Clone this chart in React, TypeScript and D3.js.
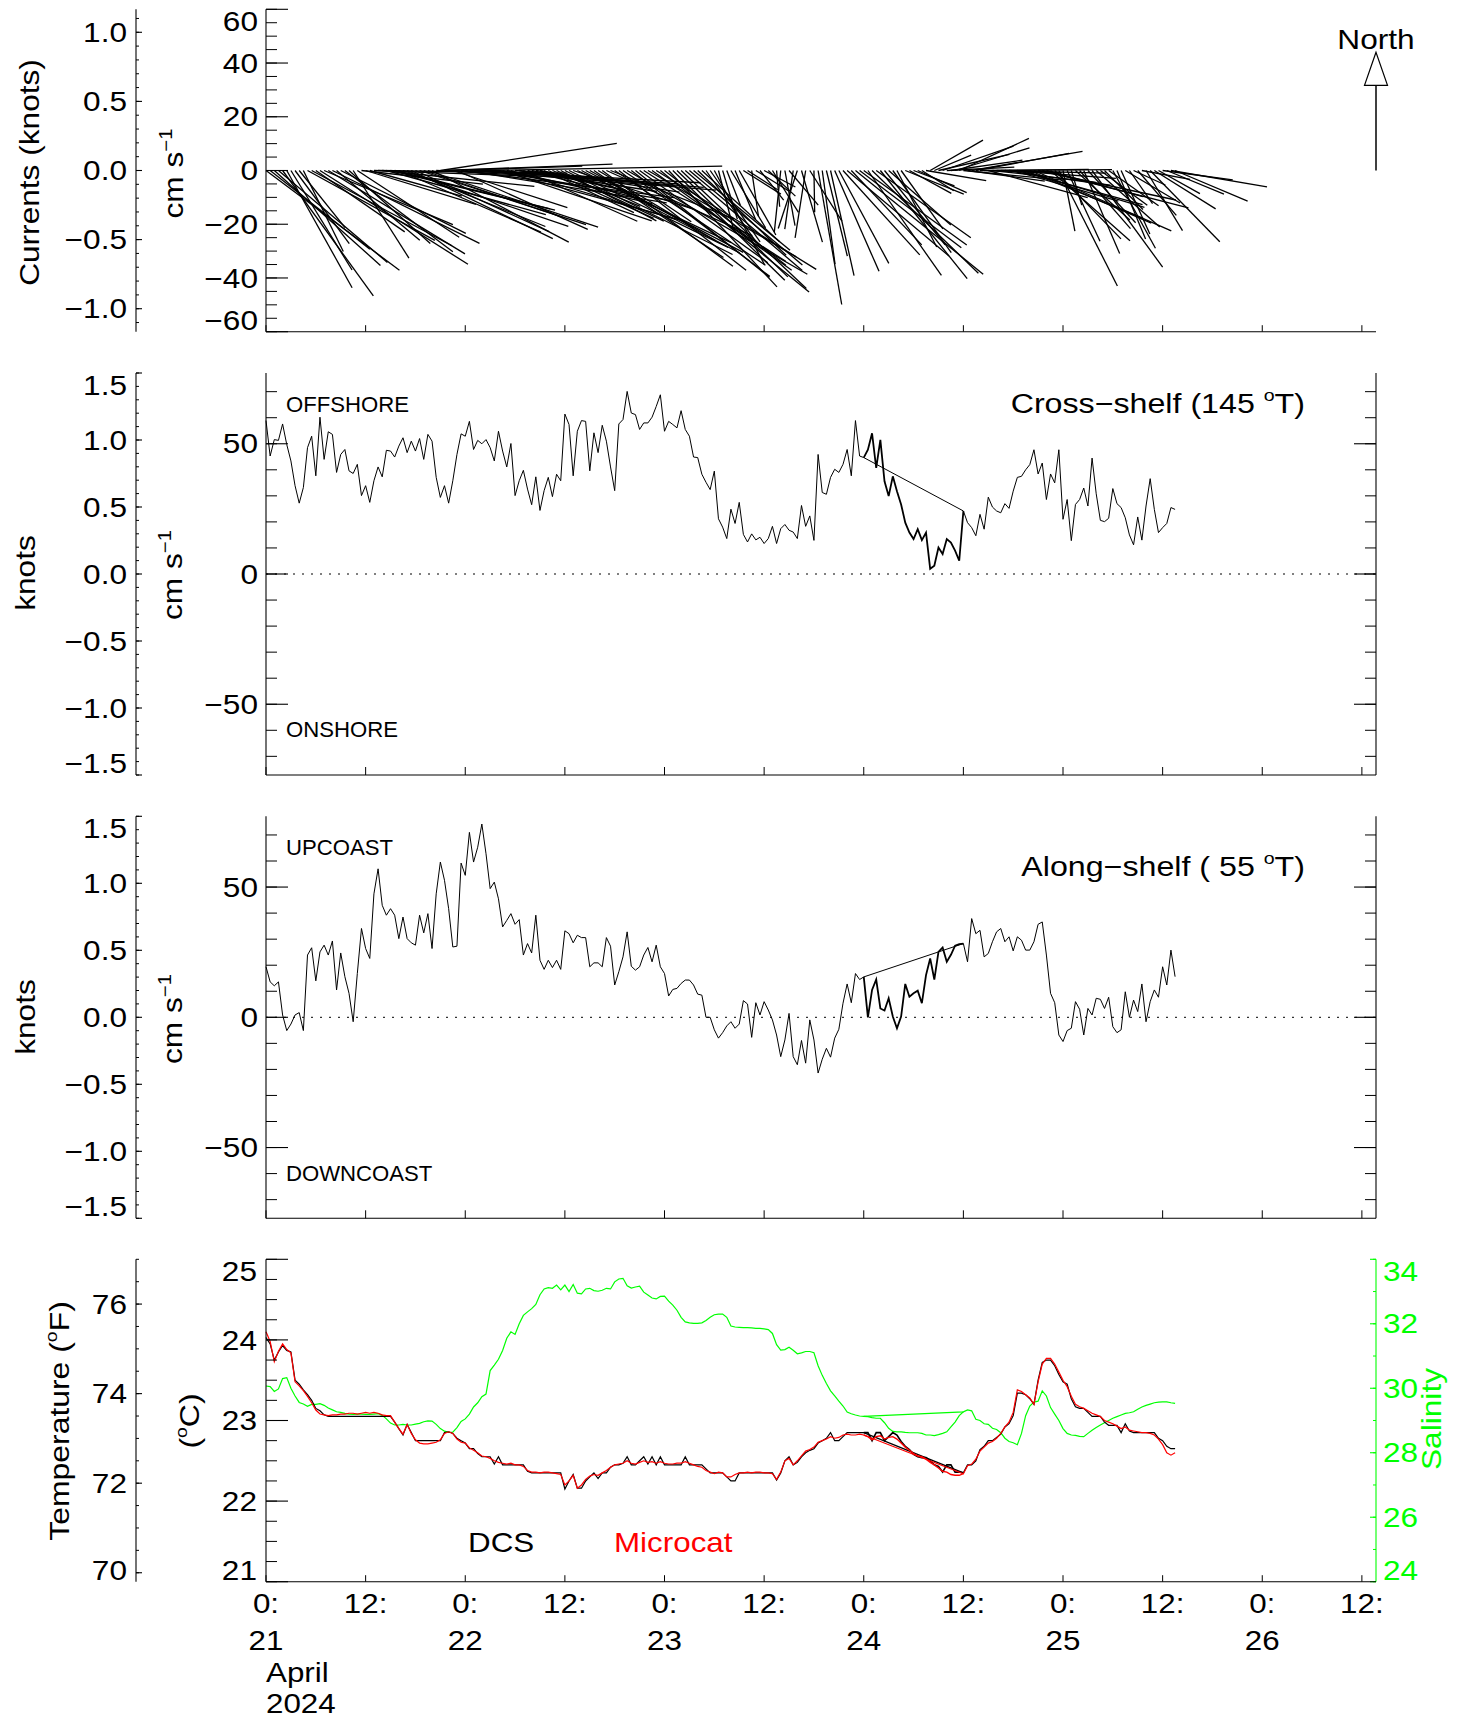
import React from 'react';
import * as d3 from 'd3';

// ---------------- data (half-hourly samples from 21 April 2024 00:00) ----------------
const STEP_H = 0.5;
const X_MAX_H = 133.7;
const GAP_START = 144; // samples between these indices are bridged by a straight line
const GAP_END = 168;
const KNOT = 51.444; // cm/s per knot
const ALONG_DIR = 55; // degrees true
const CROSS_DIR = 145;
const NORTH_ARROW_CM = 44;

const CROSS = [
  58.9, 45.3, 51.6, 51.3, 57.6, 49.7, 43.4, 33.9, 27.2, 33.2,
  48.5, 52.9, 37.7, 60.2, 44.0, 54.6, 53.6, 39.0, 45.9, 47.8,
  39.6, 38.6, 42.1, 30.1, 33.9, 27.5, 35.8, 41.1, 37.3, 47.5,
  47.2, 44.9, 49.1, 52.3, 46.6, 51.0, 47.2, 52.0, 44.0, 53.6,
  51.0, 37.1, 29.4, 33.9, 27.2, 35.8, 45.9, 53.8, 52.9, 58.6,
  47.8, 51.3, 50.0, 51.6, 48.5, 43.4, 54.8, 47.2, 41.1, 50.1,
  30.1, 35.8, 39.8, 32.6, 26.6, 37.3, 24.4, 32.0, 37.1, 29.7,
  38.3, 35.8, 61.4, 57.4, 37.7, 54.8, 58.9, 58.6, 39.6, 54.2,
  46.6, 57.1, 51.0, 41.1, 32.0, 57.6, 59.3, 70.1, 61.8, 61.2,
  55.5, 58.0, 58.0, 60.2, 64.3, 68.8, 54.8, 58.6, 57.4, 56.1,
  62.7, 55.5, 52.9, 44.9, 44.7, 38.3, 35.2, 32.4, 39.5, 21.2,
  18.0, 13.6, 24.9, 19.4, 27.5, 15.2, 12.3, 15.4, 13.1, 14.1,
  11.7, 13.6, 18.3, 11.7, 17.4, 19.0, 16.8, 16.1, 13.6, 26.3,
  18.3, 22.3, 12.9, 45.9, 31.3, 30.6, 37.1, 40.2, 39.0, 42.1,
  47.8, 37.7, 58.9, 45.3,
  44.7, 47.7, 54.0, 40.7, 51.5, 35.6, 29.9, 37.5, 31.8, 26.7,
  19.7, 15.9, 13.4, 17.2, 13.0, 15.9, 2.0, 3.2, 10.2, 7.7,
  13.4, 12.1, 9.0, 5.1, 24.2,
  19.7, 17.8, 14.7, 22.9, 17.2, 29.5, 25.7, 24.2, 23.5, 27.0,
  25.2, 31.8, 37.1, 37.5, 40.0, 42.0, 47.7, 38.4, 42.6, 28.6,
  38.4, 35.0, 47.7, 21.0, 28.6, 12.8, 26.7, 28.6, 33.0, 26.1,
  44.5, 30.8, 20.6, 20.1, 21.4, 32.8, 27.0, 25.5, 21.6, 15.0,
  11.2, 21.9, 13.0, 26.1, 36.6, 24.8, 15.9, 17.8, 19.4, 25.5,
  24.8,
];

const ALONG = [
  19.4, 13.6, 12.1, 13.6, 0.9, -5.1, -2.6, 0.9, 1.8, -5.1,
  23.9, 26.7, 14.0, 25.1, 27.7, 23.9, 29.3, 10.5, 24.7, 15.6,
  9.2, -1.7, 16.8, 34.1, 26.4, 22.6, 47.4, 57.0, 43.0, 39.2,
  41.7, 39.2, 30.2, 38.5, 30.2, 28.6, 27.7, 39.2, 32.4, 39.8,
  26.4, 47.4, 59.6, 52.6, 41.7, 27.0, 27.3, 59.2, 54.5, 71.0,
  59.6, 65.3, 74.2, 62.8, 49.4, 51.9, 45.5, 34.7, 37.2, 39.8,
  35.7, 37.5, 23.9, 28.3, 24.7, 39.2, 21.9, 18.4, 21.9, 19.1,
  21.9, 18.4, 33.2, 32.1, 28.6, 31.5, 30.6, 30.6, 19.4, 20.9,
  20.9, 19.4, 30.6, 27.3, 12.4, 17.5, 23.2, 32.8, 19.6, 18.1,
  19.4, 23.9, 26.8, 21.3, 27.7, 19.4, 16.8, 8.2, 10.7, 11.1,
  13.0, 14.3, 14.3, 12.4, 8.9, 8.5, 0.0, 0.0, -4.8, -8.0,
  -5.9, -3.3, -1.7, -4.2, -2.6, 6.4, 5.1, -7.7, 5.6, 0.9,
  6.0, 2.8, -1.0, -6.8, -15.1, -8.7, 1.5, -15.1,
  -18.2, -8.9, -17.6, -1.0, -8.7, -21.4, -16.1, -11.9, -15.3, -8.0,
  -4.6, 5.4, 12.8, 5.6, 16.8, 14.5,
  15.5,
  0.0, 10.5, 14.5, 3.4, 2.6, 7.3, 0.3, -4.2, 0.3, 12.8,
  7.9, 9.2, 10.2, 5.4, 16.2, 22.6, 14.5, 25.1, 26.8, 21.3,
  24.0, 27.5, 28.1, 28.3,
  21.3, 37.9, 32.1, 33.4, 23.2, 24.5, 29.0, 32.8, 34.1, 29.0,
  30.9, 25.5, 30.9, 29.6, 25.8, 25.8, 29.0, 35.7, 36.6, 23.9,
  9.2, 5.6, -6.8, -9.3, -5.1, -4.2, 6.0, 3.1, -6.8, 3.4,
  0.9, 7.3, 6.9, 3.4, 7.7, -3.6, -5.9, -4.8, 9.8, 0.0,
  6.6, 2.2, 12.8, -1.7, 6.0, 10.5, 7.7, 19.4, 12.4, 25.8,
  15.6,
];

const DCS = [
  24.03, 23.95, 23.75, 23.85, 23.93, 23.87, 23.85, 23.5, 23.45, 23.38,
  23.32, 23.25, 23.15, 23.12, 23.07, 23.05, 23.05, 23.05, 23.05, 23.05,
  23.05, 23.05, 23.05, 23.05, 23.05, 23.05, 23.05, 23.05, 23.05, 23.05,
  23.05, 22.98, 22.9, 22.82, 22.95, 22.85, 22.75, 22.75, 22.75, 22.75,
  22.75, 22.75, 22.75, 22.85, 22.86, 22.84, 22.78, 22.75, 22.72, 22.65,
  22.65, 22.59, 22.55, 22.55, 22.55, 22.46, 22.55, 22.45, 22.45, 22.45,
  22.45, 22.45, 22.45, 22.37, 22.35, 22.35, 22.35, 22.35, 22.35, 22.35,
  22.35, 22.35, 22.15, 22.25, 22.33, 22.16, 22.16, 22.25, 22.3, 22.35,
  22.28, 22.35, 22.35, 22.42, 22.45, 22.45, 22.47, 22.55, 22.45, 22.45,
  22.5, 22.55, 22.46, 22.55, 22.45, 22.55, 22.45, 22.45, 22.45, 22.45,
  22.45, 22.55, 22.45, 22.45, 22.45, 22.45, 22.4, 22.35, 22.35, 22.35,
  22.35, 22.3, 22.25, 22.25, 22.35, 22.35, 22.35, 22.35, 22.35, 22.35,
  22.35, 22.35, 22.35, 22.26, 22.35, 22.5, 22.55, 22.45, 22.48, 22.55,
  22.6, 22.63, 22.65, 22.72, 22.75, 22.78, 22.85, 22.75, 22.75, 22.8,
  22.85, 22.85, 22.85, 22.85, 22.85, 22.85, 22.75, 22.85, 22.85, 22.75,
  22.8, 22.85, 22.82, 22.74, 22.68, 22.64, 22.58, 22.55, 22.54, 22.54,
  22.5, 22.45, 22.43, 22.36, 22.45, 22.45, 22.36, 22.36, 22.35,
  22.45, 22.45, 22.5, 22.64, 22.68, 22.75, 22.75, 22.79, 22.83, 22.92,
  22.96, 23.06, 23.34, 23.34, 23.32, 23.27, 23.2, 23.5, 23.72, 23.75,
  23.75, 23.68, 23.57, 23.48, 23.45, 23.27, 23.17, 23.15, 23.15, 23.1,
  23.05, 23.05, 23.05, 22.98, 22.94, 22.94, 22.94, 22.85, 22.96, 22.87,
  22.85, 22.85, 22.85, 22.85, 22.85, 22.85, 22.78, 22.75, 22.68, 22.65,
  22.65,
];

const MICROCAT = [
  24.1, 23.98, 23.73, 23.86, 23.95, 23.88, 23.84, 23.48, 23.43, 23.37,
  23.3, 23.22, 23.13, 23.08, 23.07, 23.06, 23.07, 23.07, 23.08, 23.08,
  23.09, 23.09, 23.08, 23.09, 23.1, 23.09, 23.1, 23.09, 23.07, 23.06,
  23.06, 22.98, 22.9, 22.83, 22.95, 22.84, 22.76, 22.72, 22.71, 22.71,
  22.72, 22.73, 22.76, 22.84, 22.86, 22.84, 22.77, 22.73, 22.72, 22.66,
  22.63, 22.6, 22.56, 22.55, 22.53, 22.5, 22.48, 22.47, 22.46, 22.47,
  22.45, 22.45, 22.43, 22.38, 22.36, 22.36, 22.35, 22.36, 22.36, 22.35,
  22.34, 22.33, 22.2, 22.25, 22.32, 22.16, 22.2, 22.27, 22.31, 22.33,
  22.32, 22.35, 22.38, 22.42, 22.45, 22.46, 22.47, 22.5, 22.47, 22.46,
  22.48, 22.5, 22.48, 22.49, 22.47, 22.49, 22.47, 22.46, 22.46, 22.47,
  22.47, 22.49, 22.47, 22.45, 22.43, 22.42, 22.38, 22.36, 22.34, 22.36,
  22.35, 22.3, 22.3, 22.33, 22.35, 22.35, 22.36, 22.35, 22.36, 22.36,
  22.35, 22.35, 22.34, 22.27, 22.36, 22.5, 22.53, 22.45, 22.5, 22.56,
  22.62, 22.64, 22.67, 22.73, 22.75, 22.77, 22.8, 22.78, 22.79, 22.82,
  22.83, 22.82, 22.82, 22.83, 22.82, 22.8, 22.76, 22.8, 22.81, 22.77,
  22.79, 22.8, 22.77, 22.72, 22.67, 22.63, 22.59, 22.56, 22.55, 22.52,
  22.48, 22.45, 22.41, 22.37, 22.36, 22.33, 22.32, 22.32, 22.34,
  22.44, 22.46, 22.52, 22.62, 22.67, 22.72, 22.74, 22.78, 22.84, 22.92,
  22.98, 23.1, 23.38, 23.36, 23.32, 23.28, 23.2, 23.48, 23.7, 23.77,
  23.77, 23.7, 23.6, 23.5, 23.42, 23.3, 23.2, 23.17, 23.15, 23.12,
  23.09, 23.07, 23.05, 23.0, 22.98, 22.96, 22.93, 22.9, 22.92, 22.88,
  22.87, 22.86, 22.85, 22.85, 22.84, 22.82, 22.77, 22.7, 22.6, 22.57,
  22.6,
];

const SALINITY = [
  30.07, 30.05, 29.9, 29.98, 30.3, 30.33, 30.0, 29.76, 29.56, 29.51,
  29.44, 29.5, 29.5, 29.52, 29.47, 29.39, 29.33, 29.27, 29.25, 29.22,
  29.2, 29.19, 29.2, 29.2, 29.19, 29.19, 29.2, 29.21, 29.16, 29.05,
  28.92, 28.86, 28.86, 28.88, 28.86, 28.86, 28.89, 28.91, 28.96, 28.99,
  28.98, 28.88, 28.75, 28.67, 28.63, 28.64, 28.78, 28.97, 29.05, 29.2,
  29.42, 29.55, 29.74, 29.82, 30.55, 30.72, 30.9, 31.17, 31.55, 31.75,
  31.67, 32.0, 32.26, 32.37, 32.47, 32.6, 32.9, 33.08, 33.12, 33.1,
  33.2, 33.05, 33.2, 33.0, 33.22, 32.95, 32.93, 33.08, 33.1, 33.03,
  33.01, 33.04, 33.1, 33.08, 33.3, 33.39, 33.41, 33.18, 33.11, 33.14,
  33.17, 32.98, 32.89, 32.8, 32.77, 32.85, 32.86, 32.7, 32.58, 32.42,
  32.2, 32.06, 32.03, 32.01, 32.01, 32.03, 32.1, 32.2, 32.28, 32.3,
  32.3, 32.2, 31.93, 31.9, 31.89, 31.88, 31.88, 31.87, 31.86, 31.86,
  31.84, 31.82, 31.7, 31.35, 31.18, 31.2, 31.27, 31.18, 31.07, 31.1,
  31.14, 31.14, 31.1, 30.7, 30.4, 30.15, 29.92, 29.76, 29.6, 29.45,
  29.26, 29.21, 29.17, 29.14,
  29.13,
  29.12, 29.09, 29.07, 29.07, 28.93, 28.76, 28.66, 28.65, 28.65, 28.63,
  28.62, 28.62, 28.62, 28.6,
  28.55, 28.55, 28.53, 28.56, 28.6, 28.65, 28.8, 28.95, 29.15, 29.27,
  29.33, 29.3, 29.04, 29.0, 28.9, 28.88, 28.76, 28.72, 28.62, 28.45,
  28.35, 28.31, 28.25, 28.6, 29.15, 29.45, 29.57, 29.6, 29.92, 29.76,
  29.4, 29.2, 29.0, 28.75, 28.6, 28.55, 28.54, 28.51, 28.5, 28.6,
  28.7, 28.78, 28.86, 28.93, 29.0, 29.07, 29.12, 29.17, 29.22, 29.24,
  29.27, 29.35, 29.42, 29.47, 29.51, 29.55, 29.57, 29.58, 29.58, 29.55,
  29.53,
];

// ---------------- tick definitions ----------------
const X_TICK_HOURS = [0, 12, 24, 36, 48, 60, 72, 84, 96, 108, 120, 132];
const X_TICK_TIME = ['0:', '12:', '0:', '12:', '0:', '12:', '0:', '12:', '0:', '12:', '0:', '12:'];
const X_TICK_DAY = ['21', '', '22', '', '23', '', '24', '', '25', '', '26', ''];
const X_MONTH = 'April';
const X_YEAR = '2024';

const P1_CM_TICKS = [-60, -40, -20, 0, 20, 40, 60];
const P1_KNOT_TICKS = [-1, -0.5, 0, 0.5, 1];
const P23_CM_TICKS = [-50, 0, 50];
const P23_KNOT_TICKS = [-1.5, -1, -0.5, 0, 0.5, 1, 1.5];
const C_TICKS = [21, 22, 23, 24, 25];
const F_TICKS = [70, 72, 74, 76];
const SAL_TICKS = [24, 26, 28, 30, 32, 34];

// ---------------- layout ----------------
const W = 1467;
const H = 1721;
const XL = 266;
const XR = 1376;
const P1 = { top: 9.3, bottom: 331.7 };
const P2 = { top: 373, bottom: 775 };
const P3 = { top: 816.3, bottom: 1218.3 };
const P4 = { top: 1259.3, bottom: 1581.7 };
const FONT = '"Liberation Sans", Arial, Helvetica, sans-serif';
const GREEN = '#00ff00';
const RED = '#ff0000';
const SX = 1.14; // horizontal stretch of the lettering

type Lin = d3.ScaleLinear<number, number>;

const fmtKnot = d3.format('.1f');
const fmtInt = d3.format('d');

function T({ x, y, anchor = 'start', fs = 28, sx = SX, fill = '#000', rot = false, children }: any) {
  const tr = rot
    ? `translate(${x},${y}) rotate(-90) scale(${sx},1)`
    : `translate(${x},${y}) scale(${sx},1)`;
  return (
    <text transform={tr} textAnchor={anchor} fontSize={fs} fill={fill}>
      {children}
    </text>
  );
}

function YAxis(props: {
  scale: Lin; x: number; major: number[]; minor: number[]; dir: number;
  majorLen: number; minorLen: number; labels?: string[]; labelX?: number;
  anchor?: string; color?: string; fs?: number;
}) {
  const { scale, x, major, minor, dir, majorLen, minorLen, labels, labelX, anchor = 'end', color = '#000', fs = 27 } = props;
  const r = scale.range();
  const top = Math.min(r[0], r[1]);
  const bot = Math.max(r[0], r[1]);
  return (
    <g>
      <line x1={x} x2={x} y1={top} y2={bot} stroke={color} strokeWidth={1.1} />
      {minor.map((v, k) => {
        const y = scale(v);
        return <line key={'n' + k} x1={x} x2={x + dir * minorLen} y1={y} y2={y} stroke={color} strokeWidth={1} />;
      })}
      {major.map((v, k) => {
        const y = scale(v);
        return <line key={'j' + k} x1={x} x2={x + dir * majorLen} y1={y} y2={y} stroke={color} strokeWidth={1.1} />;
      })}
      {labels && major.map((v, k) => {
        const y = Math.max(top + 12.5, Math.min(bot - 11.5, scale(v)));
        return (
          <T key={'l' + k} x={labelX} y={y + fs * 0.358} anchor={anchor} fill={color} fs={fs} sx={1.17}>
            {labels[k]}
          </T>
        );
      })}
    </g>
  );
}

function XAxis({ x, y, len }: { x: Lin; y: number; len: number }) {
  return (
    <g stroke="#000">
      <line x1={XL} x2={XR} y1={y} y2={y} strokeWidth={1.1} />
      {X_TICK_HOURS.map((h) => (
        <line key={h} x1={x(h)} x2={x(h)} y1={y} y2={y - len} strokeWidth={1} />
      ))}
    </g>
  );
}

function range(a: number, b: number, s: number) {
  return d3.range(a, b + s / 2, s).map((v) => Math.round(v * 1000) / 1000);
}

export default function App() {
  const x = d3.scaleLinear().domain([0, X_MAX_H]).range([XL, XR]);
  const y1 = d3.scaleLinear().domain([-60, 60]).range([P1.bottom, P1.top]);
  const y1k = d3.scaleLinear().domain([-60 / KNOT, 60 / KNOT]).range([P1.bottom, P1.top]);
  const y2 = d3.scaleLinear().domain([-1.5 * KNOT, 1.5 * KNOT]).range([P2.bottom, P2.top]);
  const y2k = d3.scaleLinear().domain([-1.5, 1.5]).range([P2.bottom, P2.top]);
  const y3 = d3.scaleLinear().domain([-1.5 * KNOT, 1.5 * KNOT]).range([P3.bottom, P3.top]);
  const y3k = d3.scaleLinear().domain([-1.5, 1.5]).range([P3.bottom, P3.top]);
  const y4 = d3.scaleLinear().domain([21, 25]).range([P4.bottom, P4.top]);
  const y4f = d3.scaleLinear().domain([21 * 1.8 + 32, 25 * 1.8 + 32]).range([P4.bottom, P4.top]);
  const y4s = d3.scaleLinear().domain([24, 34]).range([P4.bottom, P4.top]);

  const paths = (vals: number[], ys: Lin) => {
    const pts: [number, number][] = vals.map((v, i) => [i * STEP_H, v]);
    const main = pts.filter((_, i) => i <= GAP_START || i >= GAP_END);
    const gap = pts.slice(GAP_START, GAP_END + 1);
    const line = d3.line<[number, number]>().x((d) => x(d[0])).y((d) => ys(d[1]));
    return { main: line(main) || '', gap: line(gap) || '' };
  };

  const cross = paths(CROSS, y2);
  const along = paths(ALONG, y3);
  const dcs = paths(DCS, y4);
  const mc = paths(MICROCAT, y4);
  const sal = paths(SALINITY, y4s);

  const ra = (ALONG_DIR * Math.PI) / 180;
  const rc = (CROSS_DIR * Math.PI) / 180;
  const sticks = CROSS.map((c, i) => {
    const a = ALONG[i];
    const u = a * Math.sin(ra) + c * Math.sin(rc);
    const v = a * Math.cos(ra) + c * Math.cos(rc);
    const x0 = x(i * STEP_H);
    return { x0, y0: y1(0), x1: x0 + (y1(0) - y1(u)), y1: y1(v) };
  });

  const arrowTip = y1(NORTH_ARROW_CM);
  const headLen = 33;
  const headHalf = 11.5;

  const cmTitle = (
    <>
      <tspan>cm s</tspan>
      <tspan fontSize={18} dy={-11}>−1</tspan>
    </>
  );
  const sup = (s: string) => (
    <>
      <tspan fontSize={17} dy={-12}>o</tspan>
      <tspan dy={12}>{s}</tspan>
    </>
  );

  return (
    <div style={{ position: 'absolute', left: 0, top: 0 }}>
      <svg width={W} height={H} viewBox={`0 0 ${W} ${H}`} style={{ display: 'block', background: '#fff' }} fontFamily={FONT}>
        <rect x={0} y={0} width={W} height={H} fill="#fff" />

        {/* ---------------- Panel 1: current vectors ---------------- */}
        <g>
          {sticks.map((s, i) => (
            <line key={i} x1={s.x0} y1={s.y0} x2={s.x1} y2={s.y1} stroke="#000" strokeWidth={1.3} />
          ))}
          <YAxis scale={y1k} x={136} major={P1_KNOT_TICKS} minor={range(-1.1, 1.1, 0.1)} dir={1}
            majorLen={6} minorLen={3} labels={P1_KNOT_TICKS.map(fmtKnot)} labelX={127} />
          <YAxis scale={y1} x={XL} major={P1_CM_TICKS} minor={range(-60, 60, 5)} dir={1}
            majorLen={22} minorLen={11} labels={P1_CM_TICKS.map(fmtInt)} labelX={258} />
          <XAxis x={x} y={P1.bottom} len={6.5} />
          <T rot x={39} y={172.5} anchor="middle" fs={28} sx={1.13}>Currents (knots)</T>
          <T rot x={183} y={173.5} anchor="middle" fs={28} sx={1.13}>{cmTitle}</T>
          {/* North arrow */}
          <line x1={XR} x2={XR} y1={y1(0)} y2={arrowTip + headLen} stroke="#000" strokeWidth={1.5} />
          <path d={`M${XR},${arrowTip} L${XR - headHalf},${arrowTip + headLen} L${XR + headHalf},${arrowTip + headLen} Z`}
            fill="#fff" stroke="#000" strokeWidth={1.2} />
          <T x={XR} y={49} anchor="middle" fs={28} sx={1.13}>North</T>
        </g>

        {/* ---------------- Panel 2: cross-shelf ---------------- */}
        <g>
          <line x1={XL} x2={XR} y1={y2(0)} y2={y2(0)} stroke="#000" strokeWidth={1} strokeDasharray="2,7" />
          <path d={cross.main} fill="none" stroke="#000" strokeWidth={1} />
          <path d={cross.gap} fill="none" stroke="#000" strokeWidth={1.8} />
          <YAxis scale={y2k} x={136} major={P23_KNOT_TICKS} minor={range(-1.5, 1.5, 0.1)} dir={1}
            majorLen={6} minorLen={3} labels={P23_KNOT_TICKS.map(fmtKnot)} labelX={127} />
          <YAxis scale={y2} x={XL} major={P23_CM_TICKS} minor={range(-70, 70, 10)} dir={1}
            majorLen={22} minorLen={11} labels={P23_CM_TICKS.map(fmtInt)} labelX={258} />
          <YAxis scale={y2} x={XR} major={P23_CM_TICKS} minor={range(-70, 70, 10)} dir={-1}
            majorLen={22} minorLen={11} />
          <XAxis x={x} y={P2.bottom} len={8} />
          <T rot x={35} y={573} anchor="middle" fs={28} sx={1.13}>knots</T>
          <T rot x={182} y={575} anchor="middle" fs={28} sx={1.13}>{cmTitle}</T>
          <T x={286} y={411.5} fs={21.5} sx={1.03}>OFFSHORE</T>
          <T x={286} y={736.5} fs={21.5} sx={1.03}>ONSHORE</T>
          <T x={1305} y={413} anchor="end" fs={28} sx={1.15}>
            <tspan>Cross−shelf (145 </tspan>
            {sup('T)')}
          </T>
        </g>

        {/* ---------------- Panel 3: along-shelf ---------------- */}
        <g>
          <line x1={XL} x2={XR} y1={y3(0)} y2={y3(0)} stroke="#000" strokeWidth={1} strokeDasharray="2,7" />
          <path d={along.main} fill="none" stroke="#000" strokeWidth={1} />
          <path d={along.gap} fill="none" stroke="#000" strokeWidth={1.8} />
          <YAxis scale={y3k} x={136} major={P23_KNOT_TICKS} minor={range(-1.5, 1.5, 0.1)} dir={1}
            majorLen={6} minorLen={3} labels={P23_KNOT_TICKS.map(fmtKnot)} labelX={127} />
          <YAxis scale={y3} x={XL} major={P23_CM_TICKS} minor={range(-70, 70, 10)} dir={1}
            majorLen={22} minorLen={11} labels={P23_CM_TICKS.map(fmtInt)} labelX={258} />
          <YAxis scale={y3} x={XR} major={P23_CM_TICKS} minor={range(-70, 70, 10)} dir={-1}
            majorLen={22} minorLen={11} />
          <XAxis x={x} y={P3.bottom} len={8} />
          <T rot x={35} y={1017} anchor="middle" fs={28} sx={1.13}>knots</T>
          <T rot x={182} y={1019} anchor="middle" fs={28} sx={1.13}>{cmTitle}</T>
          <T x={286} y={855} fs={21.5} sx={1.03}>UPCOAST</T>
          <T x={286} y={1180.5} fs={21.5} sx={1.03}>DOWNCOAST</T>
          <T x={1305} y={876} anchor="end" fs={28} sx={1.15}>
            <tspan>Along−shelf ( 55 </tspan>
            {sup('T)')}
          </T>
        </g>

        {/* ---------------- Panel 4: temperature & salinity ---------------- */}
        <g>
          <path d={sal.main} fill="none" stroke={GREEN} strokeWidth={1.2} />
          <path d={sal.gap} fill="none" stroke={GREEN} strokeWidth={1.2} />
          <path d={dcs.main} fill="none" stroke="#000" strokeWidth={1.2} />
          <path d={dcs.gap} fill="none" stroke="#000" strokeWidth={1.6} />
          <path d={mc.main} fill="none" stroke={RED} strokeWidth={1.2} />
          <path d={mc.gap} fill="none" stroke={RED} strokeWidth={1.4} />
          <YAxis scale={y4f} x={136} major={F_TICKS} minor={range(70, 77, 0.5)} dir={1}
            majorLen={6} minorLen={3} labels={F_TICKS.map(fmtInt)} labelX={127} />
          <YAxis scale={y4} x={XL} major={C_TICKS} minor={range(21, 25, 0.25)} dir={1}
            majorLen={22} minorLen={11} labels={C_TICKS.map(fmtInt)} labelX={257} />
          <YAxis scale={y4s} x={XR} major={SAL_TICKS} minor={range(24, 34, 1)} dir={-1}
            majorLen={6} minorLen={3} labels={SAL_TICKS.map(fmtInt)} labelX={1383} anchor="start" color={GREEN} />
          <XAxis x={x} y={P4.bottom} len={6.5} />
          {X_TICK_HOURS.map((h, k) => (
            <g key={h}>
              <T x={x(h)} y={1613} anchor="middle" fs={28} sx={1.12}>{X_TICK_TIME[k]}</T>
              {X_TICK_DAY[k] && <T x={x(h)} y={1650} anchor="middle" fs={28} sx={1.12}>{X_TICK_DAY[k]}</T>}
            </g>
          ))}
          <T x={XL} y={1682} fs={28} sx={1.12}>{X_MONTH}</T>
          <T x={XL} y={1713} fs={28} sx={1.12}>{X_YEAR}</T>
          <T rot x={69} y={1421} anchor="middle" fs={28} sx={1.14}>
            <tspan>Temperature (</tspan>
            {sup('F)')}
          </T>
          <T rot x={199} y={1421} anchor="middle" fs={28} sx={1.14}>
            <tspan>(</tspan>
            {sup('C)')}
          </T>
          <T rot x={1441} y={1419} anchor="middle" fs={28} sx={1.13} fill={GREEN}>Salinity</T>
          <T x={468} y={1552} fs={28} sx={1.12}>DCS</T>
          <T x={614} y={1552} fs={28} sx={1.12} fill={RED}>Microcat</T>
        </g>
      </svg>
    </div>
  );
}
